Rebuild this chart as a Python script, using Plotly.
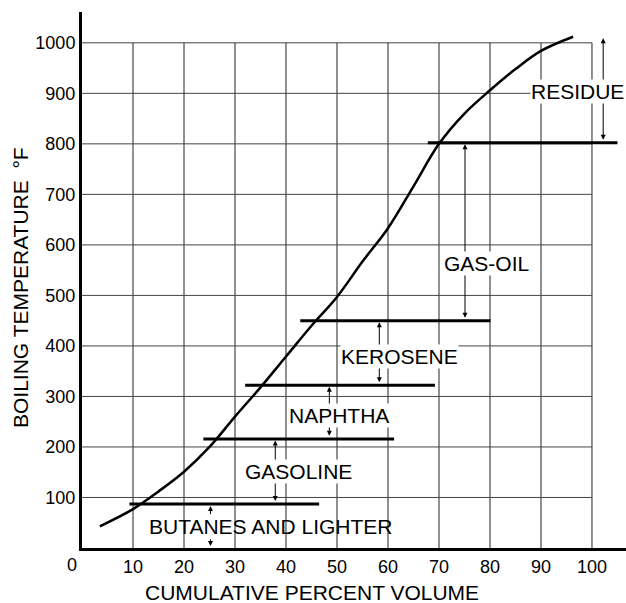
import plotly.graph_objects as go

# Distillation curve (cumulative % volume vs boiling temperature °F)
curve_x = [3.5, 10, 15, 20, 25, 30, 35, 40, 45, 50, 55, 60, 65, 70, 75, 80, 85, 90, 96.3]
curve_y = [43, 77, 112, 151, 200, 260, 318, 379, 440, 497, 567, 633, 716, 800, 860, 906, 948, 984, 1012]

# Cut points (temperature) and the span of the horizontal cut lines
cut_names = ["BUTANES", "GASOLINE", "NAPHTHA", "KEROSENE", "GAS-OIL"]
cut_temp = [87, 216, 322, 450, 802]
cut_x_start = [9.3, 23.8, 32.0, 42.8, 67.8]
cut_x_end = [46.5, 61.2, 69.2, 80.1, 105.0]

# Fraction labels and their double arrows
frac_labels = ["BUTANES AND LIGHTER", "GASOLINE", "NAPHTHA", "KEROSENE", "GAS-OIL", "RESIDUE"]
label_x = [37.0, 42.4, 50.3, 62.3, 79.3, 97.2]
label_y = [42, 151, 263, 379, 564, 904]
arrow_x = [25.2, 37.9, 48.5, 58.3, 75.1, 102.2]
arrow_lo = [0, 87, 216, 322, 450, 802]
arrow_hi = [87, 216, 322, 450, 802, 1012]

x_ticks = [10, 20, 30, 40, 50, 60, 70, 80, 90, 100]
y_ticks = [100, 200, 300, 400, 500, 600, 700, 800, 900, 1000]

x_title = "CUMULATIVE PERCENT VOLUME"
y_title = "BOILING TEMPERATURE  °F"

FONT = "Liberation Sans, Arial, sans-serif"
LABEL_SIZE = 21
TICK_SIZE = 18

W, H = 626, 603
ML, MR, MT, MB = 82, 0, 12, 55
pw, ph = W - ML - MR, H - MT - MB

fig = go.Figure()

# grid limited to the 0-100 / 0-1000 box
for xv in x_ticks:
    fig.add_shape(type="line", x0=xv, x1=xv, y0=0, y1=y_ticks[-1], xref="x", yref="y",
                  line=dict(color="#222222", width=1), layer="below")
for yv in y_ticks:
    fig.add_shape(type="line", x0=0, x1=x_ticks[-1], y0=yv, y1=yv, xref="x", yref="y",
                  line=dict(color="#444444", width=1), layer="below")

# cut lines
for xs, xe, t in zip(cut_x_start, cut_x_end, cut_temp):
    fig.add_trace(go.Scatter(x=[xs, xe], y=[t, t], mode="lines",
                             line=dict(color="black", width=3), hoverinfo="skip", showlegend=False))

# distillation curve
fig.add_trace(go.Scatter(x=curve_x, y=curve_y, mode="lines",
                         line=dict(color="black", width=2.5, shape="spline", smoothing=1.0),
                         showlegend=False))

annotations = []
# arrows
for i, (ax_, lo, hi) in enumerate(zip(arrow_x, arrow_lo, arrow_hi)):
    if i == 0:
        # butanes: two short arrows outside the label
        annotations.append(dict(x=ax_, y=hi - 4, ax=ax_, ay=label_y[0] + 22, xref="x", yref="y",
                                axref="x", ayref="y", text="", showarrow=True, arrowhead=2,
                                arrowsize=1, arrowwidth=1, arrowcolor="black", standoff=0))
        annotations.append(dict(x=ax_, y=lo + 4, ax=ax_, ay=label_y[0] - 22, xref="x", yref="y",
                                axref="x", ayref="y", text="", showarrow=True, arrowhead=2,
                                arrowsize=1, arrowwidth=1, arrowcolor="black", standoff=0))
    else:
        annotations.append(dict(x=ax_, y=hi - 3, ax=ax_, ay=lo + 3, xref="x", yref="y",
                                axref="x", ayref="y", text="", showarrow=True,
                                arrowhead=2, startarrowhead=2, arrowside="end+start",
                                arrowsize=1, startarrowsize=1, arrowwidth=1,
                                arrowcolor="black", standoff=0, startstandoff=0))
# labels
for i, (lbl, lx, ly) in enumerate(zip(frac_labels, label_x, label_y)):
    annotations.append(dict(x=lx, y=ly, xref="x", yref="y", text=lbl, showarrow=False,
                            font=dict(family=FONT, size=LABEL_SIZE, color="black"),
                            bgcolor="rgba(0,0,0,0)" if i == 0 else "white",
                            borderpad=0, xanchor="center", yanchor="middle"))
# origin label
annotations.append(dict(x=0, y=0, xref="x", yref="y", text="0", showarrow=False,
                        font=dict(family=FONT, size=TICK_SIZE, color="black"),
                        xanchor="center", yanchor="top", xshift=-10, yshift=-5))
# axis titles (positions given in window pixels, converted to paper coords)
annotations.append(dict(x=(312 - ML) / pw, y=(H - MB - 592) / ph,
                        xref="paper", yref="paper", text=x_title, showarrow=False,
                        font=dict(family=FONT, size=LABEL_SIZE, color="black"),
                        xanchor="center", yanchor="middle"))
annotations.append(dict(x=(20 - ML) / pw, y=(H - MB - 288) / ph,
                        xref="paper", yref="paper", text=y_title, showarrow=False, textangle=-90,
                        font=dict(family=FONT, size=LABEL_SIZE, color="black"),
                        xanchor="center", yanchor="middle"))

fig.update_layout(
    width=W, height=H,
    margin=dict(l=ML, r=MR, t=MT, b=MB, autoexpand=False),
    paper_bgcolor="white", plot_bgcolor="white",
    font=dict(family=FONT, color="black"),
    annotations=annotations,
    hovermode=False,
    xaxis=dict(range=[0, 106.67], tickvals=x_ticks, showgrid=False, zeroline=False,
               showline=True, linecolor="black", linewidth=3, ticks="", automargin=False,
               tickfont=dict(family=FONT, size=TICK_SIZE, color="black")),
    yaxis=dict(range=[0, 1061], tickvals=y_ticks, showgrid=False, zeroline=False,
               showline=True, linecolor="black", linewidth=3, ticks="", automargin=False,
               tickfont=dict(family=FONT, size=TICK_SIZE, color="black")),
)

fig.write_html("out.html", config={"displayModeBar": False},
               post_script="document.body.style.margin='0';document.body.style.overflow='hidden';")
